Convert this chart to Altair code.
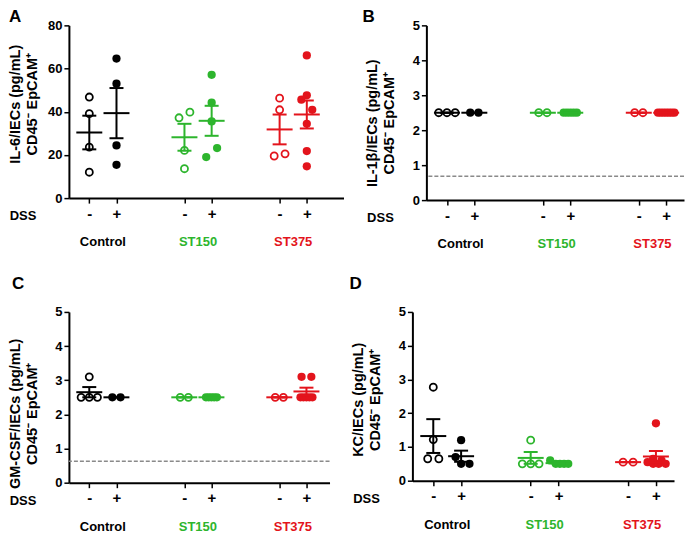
import altair as alt
import pandas as pd

FONT = "Liberation Sans"
treatments = ["Control", "ST150", "ST375"]
groups = [("Control", "-"), ("Control", "+"), ("ST150", "-"),
          ("ST150", "+"), ("ST375", "-"), ("ST375", "+")]
colors = ["#000000", "#2db52d", "#e3141c"]

# values per group, in the order of `groups`
il6_values = [
    [46.8, 39.1, 23.6, 12.0],
    [64.6, 53.0, 24.4, 15.4],
    [37.2, 39.8, 22.1, 13.6],
    [57.1, 44.2, 35.5, 23.2, 19.0],
    [46.3, 40.9, 19.5, 20.5],
    [66.1, 47.6, 45.6, 40.9, 34.4, 21.8, 14.7],
]
il1b_values = [
    [2.5, 2.5, 2.5],
    [2.5, 2.5],
    [2.5, 2.5],
    [2.5, 2.5, 2.5, 2.5, 2.5],
    [2.5, 2.5],
    [2.5, 2.5, 2.5, 2.5, 2.5, 2.5, 2.5],
]
gmcsf_values = [
    [3.1, 2.5, 2.5, 2.5],
    [2.5, 2.5],
    [2.5, 2.5],
    [2.5, 2.5, 2.5, 2.5, 2.5],
    [2.5, 2.5],
    [3.1, 3.1, 2.5, 2.5, 2.5, 2.5, 2.5],
]
kc_values = [
    [2.77, 1.22, 0.65, 0.65],
    [1.2, 0.7, 0.5, 0.5],
    [1.2, 0.5, 0.5, 0.5],
    [0.6, 0.5, 0.5, 0.5, 0.5],
    [0.55, 0.55],
    [1.7, 0.65, 0.6, 0.55, 0.5, 0.5, 0.5],
]
# beeswarm slot of each point (spreads tied values sideways)
il6_swarm = [[0, 0, 0, 0], [0, 0, 0, 0], [-2, 2, 0, 0], [0, 0, 0, 2, -2],
             [0, 0, -2, 2], [0, 0, -2, 2, 0, 0, 0]]
il1b_swarm = [[-3, 0, 3], [-1.5, 1.5], [-1.5, 1.5], [-2.4, -1.2, 0, 1.2, 2.4],
              [-1.5, 1.5], [-3, -2, -1, 0, 1, 2, 3]]
gmcsf_swarm = [[0, -3, 0, 3], [-1.5, 1.5], [-1.5, 1.5], [-2, -1, 0, 1, 2],
               [-1.5, 1.5], [-1.8, 1.8, -2.2, -1.1, 0, 1.1, 2.2]]
kc_swarm = [[0, 0, -2, 2], [0, -2, 0, 3], [0, -3, 0, 3], [-3, -1, 0.5, 2, 3.5],
            [-1.8, 1.8], [0, -1, 2, -3, -1, 1, 3.5]]
il1b_limit = 0.68
gmcsf_limit = 0.63

SLOT = 0.1
GAP = 3.5


def center_of(t, d):
    return 1.25 + GAP * treatments.index(t) + (-0.5 if d == "-" else 0.5)


TICKS = [center_of(t, d) for t, d in groups]


def make_df(values, swarm):
    rows = []
    for (t, d), vals, sl in zip(groups, values, swarm):
        c = center_of(t, d)
        for v, s in zip(vals, sl):
            rows.append(dict(treatment=t, dss=d, value=v, center=c, x=c + s * SLOT))
    return pd.DataFrame(rows)


def txt(s, x, y, size=13, angle=0, align="center", color="black"):
    return alt.Chart(pd.DataFrame({"t": [s]})).mark_text(
        font=FONT, fontSize=size, fontWeight="bold", align=align, baseline="middle",
        color=color, angle=angle,
    ).encode(text="t:N", x=alt.value(x), y=alt.value(y))


def panel(values, swarm, letter, ytitle, ymax, ystep, width, xmax, height,
          title_y, letter_x, letter_y, limit=None):
    df = make_df(values, swarm)
    xscale = alt.Scale(domain=[0, xmax], nice=False, zero=False)
    yscale = alt.Scale(domain=[0, ymax], nice=False, zero=True)
    xaxis = alt.Axis(values=TICKS, title=None, grid=False, labelAngle=0,
                     labelExpr="(round(datum.value*4) % 14) == 3 ? '-' : '+'",
                     labelFontSize=15, labelFontWeight="bold", labelPadding=3,
                     tickSize=5)
    yvals = list(range(0, ymax + 1, ystep))
    yaxis = alt.Axis(values=yvals, title=None, grid=False, tickSize=5,
                     labelFontSize=13, labelFontWeight="bold", labelPadding=2)

    def X(f):
        return alt.X(f, scale=xscale, axis=xaxis)

    def Y(f):
        return alt.Y(f, scale=yscale, axis=yaxis)

    col = alt.Color("treatment:N", scale=alt.Scale(domain=treatments, range=colors),
                    legend=None)
    base = alt.Chart(df)
    layers = []
    if limit is not None:
        layers.append(
            alt.Chart(pd.DataFrame({"limit": [limit]}))
            .mark_rule(color="#8a8a8a", strokeDash=[4, 2], strokeWidth=1.5)
            .encode(y=Y("limit:Q"))
        )
    opened = base.transform_filter("datum.dss == '-'").mark_point(
        shape="circle", filled=False, size=50, strokeWidth=1.8, opacity=1
    ).encode(x=X("x:Q"), y=Y("value:Q"), color=col)
    filled = base.transform_filter("datum.dss == '+'").mark_point(
        shape="circle", filled=True, size=68, opacity=1
    ).encode(x=X("x:Q"), y=Y("value:Q"), color=col)
    stats = base.transform_aggregate(
        mean="mean(value)", sem="stderr(value)", groupby=["treatment", "dss", "center"]
    ).transform_calculate(lo="datum.mean - datum.sem", hi="datum.mean + datum.sem")
    mean_t = stats.mark_tick(orient="horizontal", size=26, thickness=2, opacity=1).encode(
        x=X("center:Q"), y=Y("mean:Q"), color=col)
    bar = stats.mark_rule(strokeWidth=2).encode(
        x=X("center:Q"), y=Y("lo:Q"), y2="hi:Q", color=col)
    cap_hi = stats.mark_tick(orient="horizontal", size=14, thickness=2, opacity=1).encode(
        x=X("center:Q"), y=Y("hi:Q"), color=col)
    cap_lo = stats.mark_tick(orient="horizontal", size=14, thickness=2, opacity=1).encode(
        x=X("center:Q"), y=Y("lo:Q"), color=col)
    letter_t = txt(letter, letter_x, letter_y, size=17, align="left")
    title1 = txt(ytitle[0], -53, title_y, size=14.5, angle=270)
    title2 = txt(ytitle[1], -36, title_y, size=14.5, angle=270)
    dss_t = txt("DSS", -46, height + 18)
    grp = alt.Chart(pd.DataFrame({
        "treatment": treatments,
        "gx": [(center_of(t, "-") + center_of(t, "+")) / 2 for t in treatments],
    })).mark_text(font=FONT, fontSize=13, fontWeight="bold", align="center",
                  baseline="middle").encode(
        x=X("gx:Q"), y=alt.value(height + 44), text="treatment:N", color=col)
    layers += [opened, filled, mean_t, bar, cap_hi, cap_lo,
               letter_t, title1, title2, dss_t, grp]
    return alt.layer(*layers).properties(width=width, height=height)


A = panel(il6_values, il6_swarm, "A", ["IL-6/IECs (pg/mL)", "CD45⁻ EpCAM⁺"],
          80, 20, 275, 10.1, 173, 79, -60, -8)
B = panel(il1b_values, il1b_swarm, "B", ["IL-1β/IECs (pg/mL)", "CD45⁻ EpCAM⁺"],
          5, 1, 258, 9.4, 175, 98, -64, -8, limit=il1b_limit)
C = panel(gmcsf_values, gmcsf_swarm, "C", ["GM-CSF/IECs (pg/mL)", "CD45⁻ EpCAM⁺"],
          5, 1, 261, 9.6, 171, 102, -57, -28, limit=gmcsf_limit)
D = panel(kc_values, kc_swarm, "D", ["KC/IECs (pg/mL)", "CD45⁻ EpCAM⁺"],
          5, 1, 262, 9.4, 169, 88, -63, -28)

chart = alt.vconcat(
    alt.hconcat(A, B, spacing=19),
    alt.hconcat(C, D, spacing=19),
    spacing=24,
).configure_view(stroke=None).configure_axis(
    labelFont=FONT, titleFont=FONT, domainColor="black", tickColor="black",
    labelColor="black", titleColor="black", domainWidth=2, tickWidth=1.5,
).properties(padding={"left": 0, "top": 0, "right": 0, "bottom": 0})

chart.save("out.html", embed_options={"renderer": "svg", "actions": False})
